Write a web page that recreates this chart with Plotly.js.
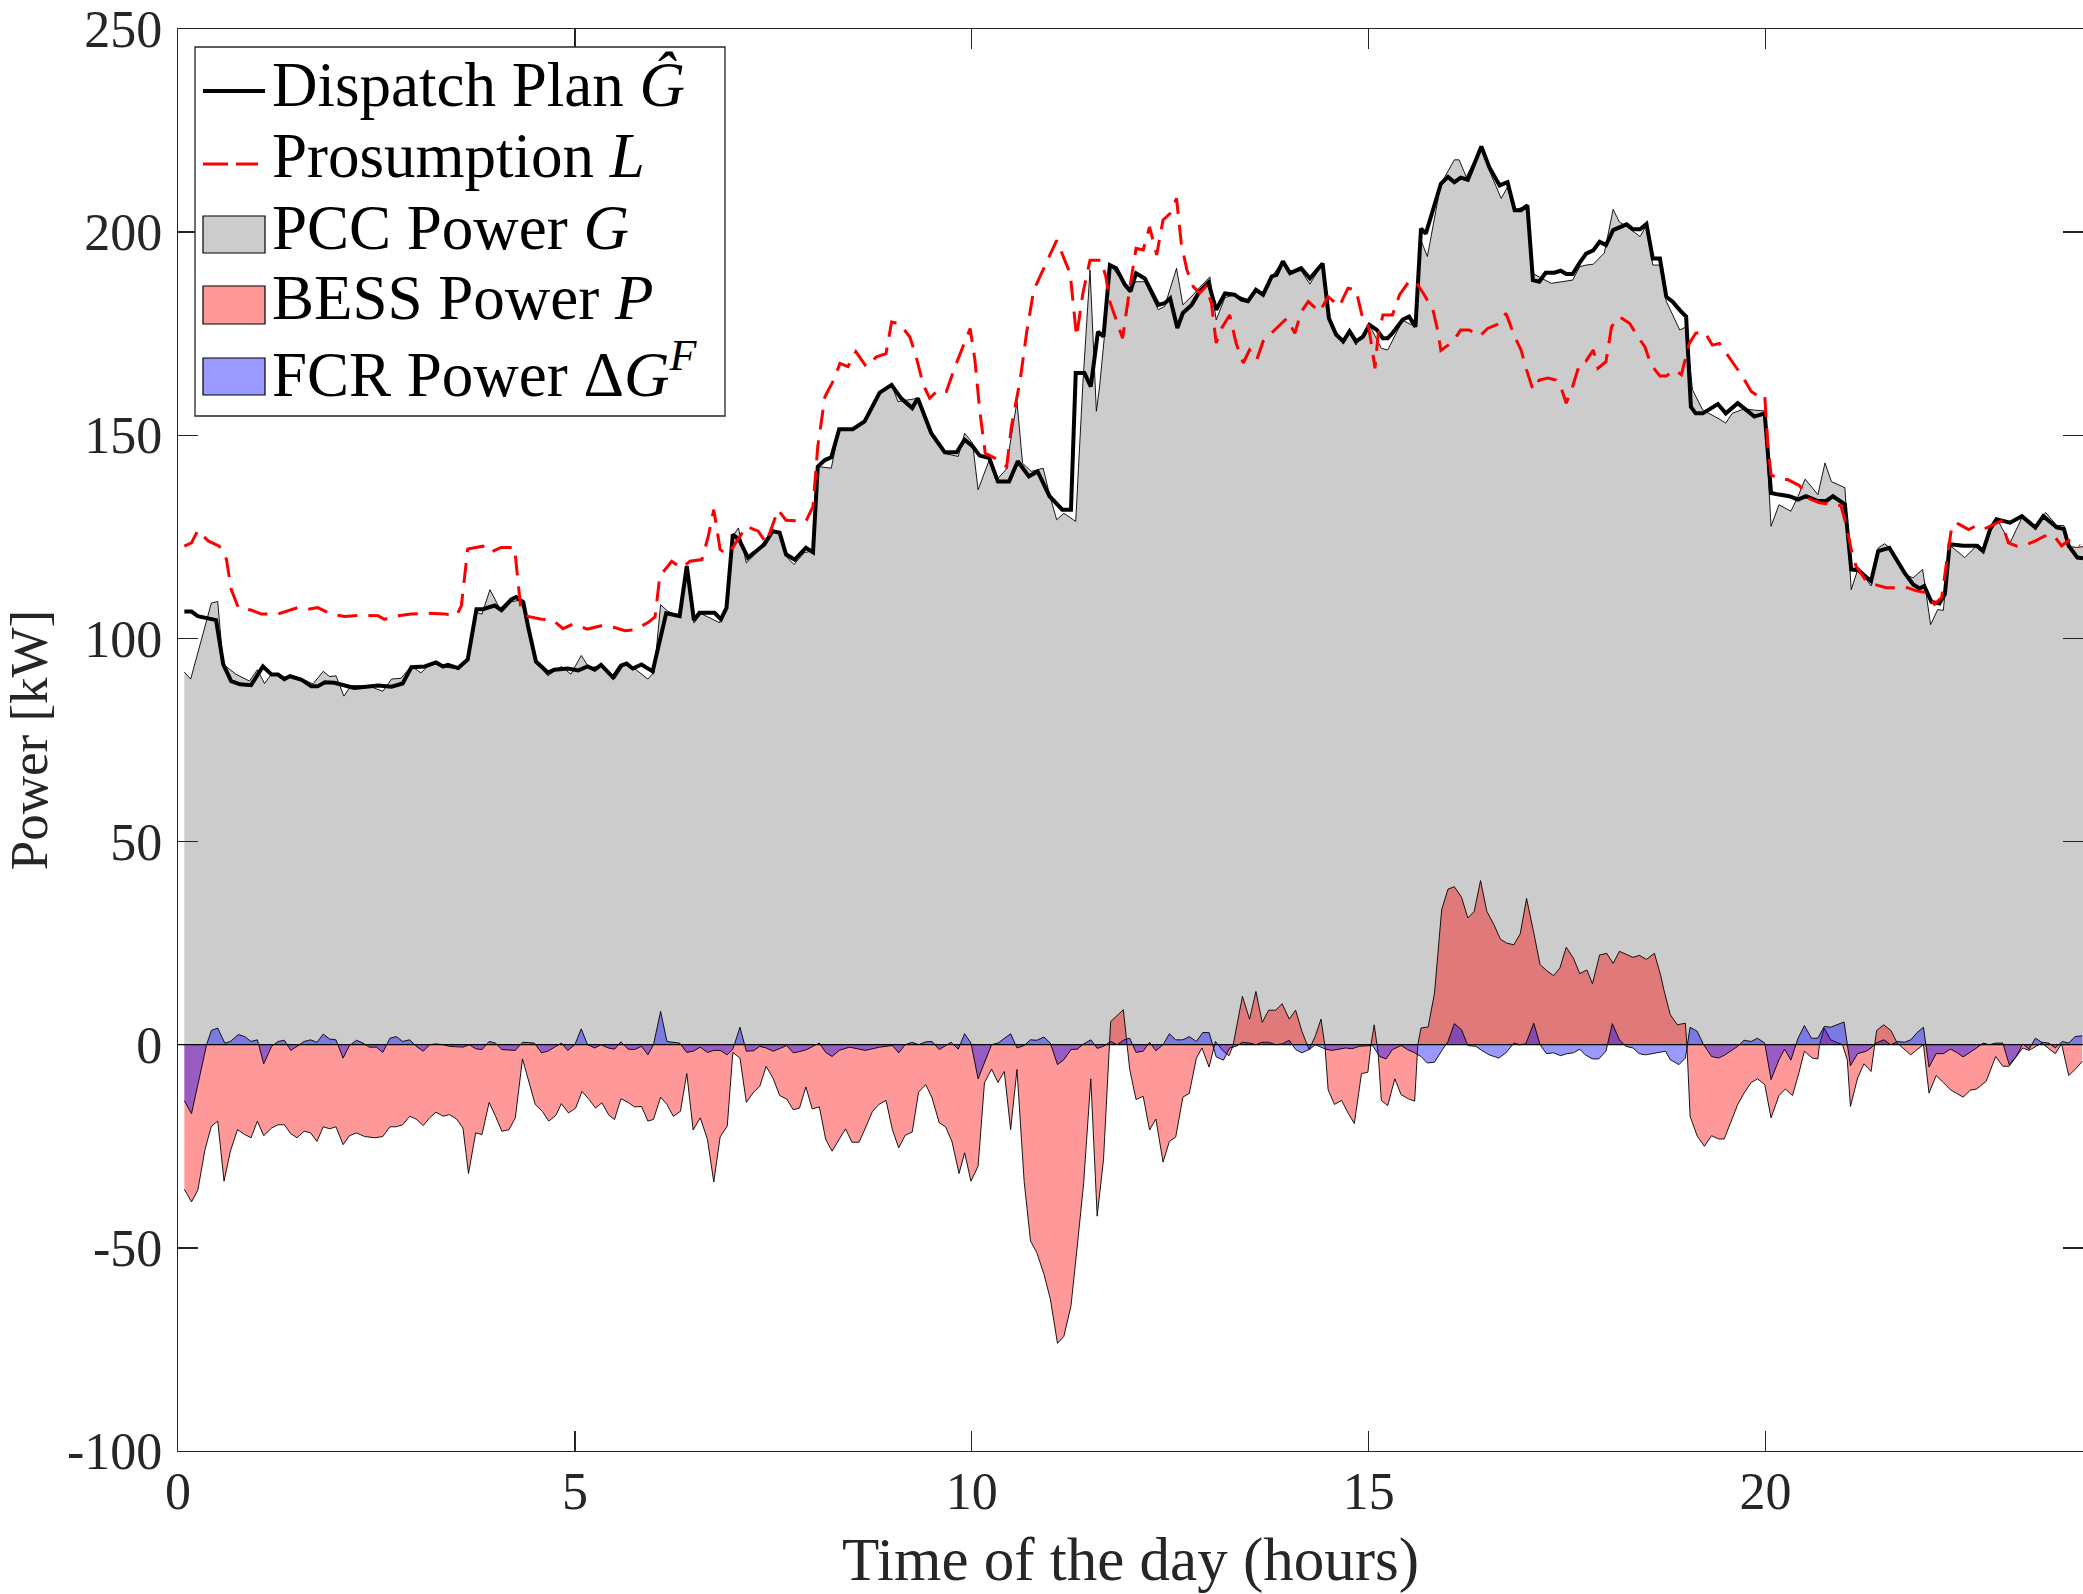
<!DOCTYPE html>
<html>
<head>
<meta charset="utf-8">
<script src="https://cdn.plot.ly/plotly-3.0.1.min.js"></script>
<style>html,body{margin:0;padding:0;background:#fff;}#chart{width:2083px;height:1594px;}</style>
</head>
<body>
<div id="chart"></div>
<script>
// ---- Dispatch plan G^ ----
const tD = [0.08,0.17,0.25,0.48,0.57,0.67,0.78,0.92,1.07,1.18,1.26,1.34,1.41,1.55,1.68,1.76,1.85,1.97,2.22,2.52,2.69,2.83,2.94,3.11,3.25,3.34,3.40,3.53,3.65,3.76,3.84,3.99,4.07,4.20,4.26,4.35,4.41,4.51,4.66,4.74,4.91,5.04,5.16,5.25,5.33,5.48,5.58,5.65,5.73,5.84,5.98,6.07,6.15,6.32,6.41,6.50,6.57,6.76,6.84,6.91,6.99,7.07,7.18,7.26,7.39,7.49,7.58,7.66,7.77,7.91,8.00,8.06,8.15,8.23,8.33,8.50,8.65,8.84,8.99,9.11,9.25,9.32,9.49,9.66,9.81,9.91,10.01,10.10,10.22,10.33,10.47,10.58,10.72,10.83,10.98,11.14,11.25,11.31,11.42,11.50,11.59,11.66,11.74,11.82,11.93,12.00,12.07,12.18,12.35,12.43,12.50,12.59,12.66,12.77,12.87,12.98,13.08,13.19,13.31,13.40,13.48,13.58,13.67,13.78,13.84,13.92,14.01,14.15,14.26,14.42,14.50,14.59,14.68,14.76,14.84,14.93,15.01,15.10,15.18,15.24,15.30,15.43,15.51,15.59,15.66,15.72,15.81,15.91,16.00,16.08,16.16,16.25,16.42,16.52,16.65,16.75,16.84,16.92,17.00,17.07,17.15,17.23,17.34,17.42,17.49,17.57,17.66,17.74,17.83,17.91,17.99,18.08,18.25,18.33,18.42,18.50,18.58,18.67,18.75,18.83,18.92,19.00,19.06,19.12,19.21,19.31,19.40,19.50,19.65,19.76,19.86,19.99,20.07,20.17,20.30,20.41,20.51,20.66,20.77,20.85,21.00,21.08,21.17,21.33,21.42,21.56,21.75,21.86,21.94,22.00,22.09,22.19,22.26,22.32,22.49,22.66,22.74,22.83,22.91,23.08,23.23,23.40,23.50,23.67,23.76,23.82,23.93,24.00];
const dispatch = [106.6,106.6,105.5,104.5,93.6,89.5,88.7,88.5,93.1,91.1,91.1,90.0,90.7,89.9,88.2,88.2,89.2,89.1,87.8,88.4,88.1,88.9,92.9,93.1,94.1,93.1,93.5,92.7,94.8,107.2,107.2,108.1,107.0,109.6,110.2,108.9,103.0,94.3,91.6,92.3,92.6,92.1,93.1,92.3,93.5,90.4,93.3,93.8,92.6,93.6,91.9,99.1,106.2,105.5,117.8,104.5,106.3,106.3,104.7,107.5,125.6,124.3,119.9,121.1,123.2,126.4,126.0,120.7,119.4,122.3,121.2,142.3,143.9,144.6,151.5,151.5,153.4,160.5,162.4,159.1,156.7,159.1,150.5,145.8,145.8,148.9,147.3,145.0,144.4,138.6,138.6,143.6,139.9,141.1,135.0,131.7,131.7,165.3,165.3,162.0,175.5,174.3,191.9,191.1,187.0,185.4,189.9,188.6,182.1,182.5,183.7,176.4,180.1,182.1,185.4,187.6,180.9,184.9,184.6,183.4,183.0,185.8,184.6,189.1,189.5,192.8,189.9,191.1,188.6,192.3,178.8,174.8,173.1,175.6,173.1,174.3,177.2,176.0,173.9,173.9,175.1,178.5,179.2,176.7,200.9,199.6,205.4,211.9,213.6,212.3,213.4,212.9,221.1,216.0,211.5,212.3,205.4,205.4,206.6,188.2,187.8,190.0,190.0,190.5,189.7,189.7,192.5,194.7,195.5,197.6,196.8,200.5,201.9,200.7,200.7,202.0,193.5,193.5,184.1,182.9,180.8,179.2,157.0,155.4,155.4,156.6,157.7,155.4,157.9,156.2,154.6,155.4,135.8,135.4,135.0,134.2,135.0,133.8,133.9,135.0,133.0,117.0,116.8,114.1,121.5,122.3,116.2,113.3,112.3,112.9,109.0,108.6,110.9,123.2,122.8,122.8,121.5,126.9,129.3,128.5,130.1,127.3,130.1,127.3,126.9,122.8,119.9,119.7];

// ---- Prosumption L ----
const tL = [0.08,0.17,0.25,0.38,0.52,0.61,0.67,0.76,0.92,1.05,1.26,1.39,1.51,1.64,1.76,1.93,2.10,2.31,2.52,2.60,2.77,2.94,3.15,3.36,3.51,3.57,3.65,3.84,3.93,4.07,4.24,4.28,4.32,4.41,4.58,4.72,4.85,4.97,5.16,5.33,5.50,5.63,5.75,5.92,6.01,6.07,6.22,6.34,6.45,6.60,6.68,6.75,6.83,6.91,7.00,7.16,7.31,7.41,7.56,7.66,7.83,7.91,8.00,8.06,8.15,8.25,8.34,8.44,8.54,8.67,8.80,8.92,8.99,9.09,9.22,9.30,9.39,9.47,9.58,9.68,9.79,9.89,9.98,10.04,10.10,10.17,10.29,10.44,10.50,10.61,10.69,10.78,10.90,11.07,11.24,11.32,11.40,11.49,11.63,11.69,11.74,11.82,11.90,12.00,12.07,12.16,12.24,12.33,12.41,12.50,12.58,12.64,12.71,12.79,12.87,12.95,13.02,13.08,13.15,13.25,13.33,13.42,13.50,13.59,13.67,13.80,13.97,14.07,14.15,14.24,14.38,14.49,14.63,14.74,14.84,14.93,14.99,15.03,15.08,15.12,15.18,15.30,15.39,15.51,15.59,15.70,15.81,15.87,15.91,16.06,16.16,16.27,16.40,16.50,16.65,16.73,16.84,16.92,16.99,17.07,17.15,17.26,17.36,17.42,17.49,17.57,17.66,17.74,17.83,17.89,17.99,18.06,18.16,18.29,18.39,18.48,18.56,18.67,18.75,18.86,18.94,19.04,19.12,19.23,19.33,19.42,19.54,19.71,19.82,19.92,19.99,20.03,20.07,20.17,20.28,20.43,20.56,20.68,20.83,20.95,21.02,21.08,21.14,21.27,21.37,21.52,21.69,21.79,21.90,22.02,22.13,22.22,22.28,22.35,22.41,22.56,22.64,22.74,22.87,22.97,23.06,23.17,23.29,23.40,23.52,23.63,23.73,23.84,23.96];
const prosumption = [122.7,123.5,126.6,124.0,122.7,119.5,112.1,107.6,107.0,106.0,106.0,106.8,107.6,107.2,107.6,106.0,105.4,105.7,105.6,104.7,105.6,106.0,106.2,106.0,105.6,108.1,122.0,122.7,121.1,122.4,122.4,114.6,107.2,105.4,104.7,104.6,102.4,103.5,102.3,103.1,102.7,101.9,102.1,103.9,105.3,115.3,119.0,117.3,119.0,119.4,125.1,131.7,121.9,120.7,122.7,127.6,126.4,123.5,131.7,129.1,128.8,128.8,132.5,147.2,159.5,163.2,167.7,166.9,170.6,166.9,169.3,170.1,177.9,177.5,174.2,169.3,162.4,159.1,161.2,160.8,166.9,171.8,176.3,168.5,156.2,145.6,144.4,142.3,152.2,163.6,175.1,185.7,190.7,198.0,189.8,174.3,184.9,193.1,193.1,189.0,182.9,178.4,173.9,187.4,196.0,195.6,201.3,194.4,203.0,204.6,208.3,197.2,190.7,186.6,185.0,186.6,182.5,172.7,176.4,179.6,172.7,167.8,171.0,168.6,173.1,175.6,178.8,175.1,180.4,182.9,180.4,184.1,181.7,186.2,185.8,178.4,177.6,173.1,166.5,174.7,179.6,179.6,184.6,187.9,187.9,184.6,180.9,175.8,170.9,173.0,175.9,175.9,174.4,176.3,177.5,180.0,174.3,171.0,166.1,161.2,163.6,164.1,163.6,162.0,157.9,162.0,167.7,168.3,171.0,166.5,168.1,176.7,179.2,177.5,174.3,171.8,167.3,164.6,164.6,166.1,164.9,172.6,175.1,175.5,172.2,172.6,169.3,164.5,160.8,159.5,159.9,147.2,140.3,139.2,139.1,137.6,134.3,133.4,133.0,132.7,127.6,121.9,117.8,114.1,113.3,112.5,112.5,112.5,111.7,111.3,108.4,110.1,118.6,128.0,128.4,126.8,127.6,126.8,128.0,128.9,123.5,122.7,123.1,124.0,125.2,125.4,122.8,124.4,122.8];

// ---- PCC power G ----
const tG = [0.08,0.16,0.42,0.50,0.57,0.73,0.90,1.00,1.09,1.18,1.34,1.55,1.70,1.83,1.91,1.99,2.09,2.18,2.40,2.58,2.69,2.81,2.94,3.06,3.19,3.34,3.53,3.65,3.76,3.83,3.93,4.08,4.20,4.32,4.41,4.51,4.66,4.83,4.95,5.08,5.18,5.34,5.50,5.63,5.77,5.92,6.00,6.08,6.17,6.32,6.41,6.50,6.59,6.82,6.91,6.99,7.06,7.16,7.26,7.49,7.58,7.66,7.76,7.89,8.00,8.06,8.23,8.33,8.50,8.65,8.84,8.99,9.07,9.18,9.32,9.49,9.66,9.83,9.91,10.01,10.08,10.22,10.33,10.43,10.57,10.64,10.75,10.90,10.98,11.07,11.16,11.31,11.40,11.49,11.57,11.61,11.67,11.73,11.86,12.00,12.07,12.18,12.35,12.43,12.58,12.66,12.79,12.87,13.00,13.08,13.19,13.31,13.48,13.58,13.67,13.78,13.92,14.01,14.15,14.26,14.42,14.50,14.68,14.76,14.84,15.01,15.16,15.24,15.43,15.59,15.66,15.74,15.91,16.08,16.14,16.23,16.42,16.52,16.67,16.75,16.84,17.00,17.07,17.30,17.57,17.66,17.74,17.83,17.97,18.08,18.16,18.25,18.42,18.50,18.58,18.67,18.75,18.92,19.00,19.08,19.21,19.40,19.50,19.58,19.73,19.86,19.99,20.07,20.17,20.32,20.41,20.50,20.66,20.75,20.83,21.00,21.08,21.17,21.25,21.33,21.42,21.50,21.58,21.75,21.86,21.98,22.08,22.17,22.24,22.32,22.51,22.68,22.74,22.91,23.08,23.23,23.40,23.53,23.67,23.76,23.82,23.93,24.00];
const pcc = [91.7,90.0,108.7,109.1,93.6,91.2,89.5,92.3,88.9,91.3,90.5,90.2,88.8,91.9,90.6,90.8,85.8,88.4,88.3,87.0,90.0,90.2,93.2,91.5,94.1,93.0,92.5,94.8,106.4,106.0,112.0,106.4,109.0,109.5,103.0,94.3,90.8,93.1,91.2,95.8,92.8,93.2,90.0,93.9,92.3,90.0,91.8,108.3,106.7,105.5,117.8,103.8,106.1,103.9,107.2,125.2,127.2,118.6,120.5,126.8,126.0,120.2,118.2,121.1,121.6,142.3,141.9,151.5,151.5,153.4,160.5,162.4,158.3,158.7,159.1,150.5,145.5,144.8,150.5,148.1,136.6,143.9,139.4,141.5,158.3,143.1,141.1,141.9,135.4,129.2,130.8,128.8,162.8,190.7,155.9,161.9,174.1,192.3,189.0,186.2,187.8,187.8,180.9,181.7,191.1,182.1,184.6,186.4,189.0,178.4,183.9,184.6,183.4,185.8,184.6,189.1,192.8,190.5,190.5,187.2,192.3,178.4,172.5,175.4,172.2,177.2,171.4,171.0,178.3,176.7,198.0,194.0,211.9,217.8,217.8,213.6,220.9,215.2,208.3,211.1,205.4,206.6,189.8,187.4,188.2,191.5,191.9,192.1,194.9,205.6,202.5,201.4,198.9,201.7,191.9,191.9,183.0,175.9,176.7,161.2,156.2,154.2,153.0,155.4,156.5,156.2,156.0,127.6,132.9,131.3,135.0,139.2,135.4,143.2,138.6,137.1,112.0,117.4,115.0,112.9,122.3,123.3,122.1,115.8,114.9,117.0,103.4,107.1,106.9,123.0,119.9,123.2,122.0,129.7,123.5,129.7,127.6,131.0,127.8,127.8,122.6,122.4,122.6];

// ---- BESS power P ----
const tP = [0.08,0.17,0.25,0.34,0.42,0.50,0.58,0.66,0.75,0.84,0.92,1.00,1.08,1.18,1.26,1.34,1.42,1.50,1.59,1.67,1.75,1.83,1.91,1.99,2.08,2.16,2.25,2.35,2.48,2.58,2.67,2.75,2.83,2.92,3.00,3.09,3.17,3.25,3.34,3.42,3.51,3.59,3.66,3.75,3.83,3.92,4.00,4.08,4.17,4.25,4.34,4.42,4.50,4.59,4.67,4.76,4.83,4.92,5.01,5.09,5.18,5.26,5.34,5.43,5.50,5.58,5.67,5.75,5.84,5.92,5.99,6.08,6.16,6.24,6.33,6.41,6.49,6.58,6.67,6.75,6.83,6.92,6.99,7.08,7.16,7.25,7.33,7.41,7.50,7.58,7.67,7.75,7.83,7.91,7.99,8.08,8.16,8.24,8.33,8.41,8.49,8.58,8.66,8.75,8.83,8.92,9.00,9.08,9.16,9.25,9.33,9.42,9.50,9.59,9.67,9.75,9.84,9.91,9.99,10.08,10.16,10.25,10.33,10.41,10.49,10.57,10.66,10.74,10.82,10.91,10.99,11.08,11.16,11.25,11.33,11.41,11.50,11.58,11.66,11.75,11.91,11.99,12.07,12.16,12.24,12.32,12.41,12.49,12.57,12.66,12.74,12.83,12.90,12.99,13.07,13.17,13.24,13.29,13.41,13.50,13.58,13.66,13.74,13.83,13.91,14.00,14.08,14.16,14.25,14.33,14.40,14.45,14.49,14.57,14.66,14.74,14.82,14.91,14.99,15.03,15.07,15.12,15.16,15.24,15.33,15.41,15.50,15.58,15.62,15.66,15.75,15.83,15.92,16.00,16.08,16.17,16.25,16.33,16.41,16.49,16.58,16.66,16.74,16.83,16.91,16.99,17.08,17.16,17.24,17.33,17.41,17.49,17.58,17.66,17.75,17.82,17.91,18.00,18.08,18.16,18.33,18.41,18.50,18.60,18.68,18.72,18.80,18.89,18.99,19.01,19.05,19.14,19.23,19.32,19.41,19.48,19.56,19.65,19.73,19.82,19.90,19.99,20.07,20.17,20.25,20.34,20.42,20.49,20.59,20.66,20.68,20.74,20.82,20.97,21.03,21.07,21.16,21.24,21.33,21.37,21.40,21.49,21.58,21.66,21.75,21.83,21.91,21.99,22.06,22.15,22.24,22.33,22.41,22.49,22.58,22.66,22.78,22.90,22.99,23.07,23.16,23.24,23.32,23.40,23.48,23.56,23.65,23.73,23.82,23.90,23.99];
const bess = [-35.6,-38.7,-35.8,-25.8,-20.1,-18.8,-33.6,-26.2,-20.9,-22.1,-22.9,-18.8,-22.4,-20.5,-19.7,-19.7,-21.9,-22.9,-21.3,-21.7,-23.8,-20.2,-20.7,-20.2,-24.6,-22.4,-21.7,-22.6,-22.9,-22.6,-20.2,-20.2,-19.7,-17.6,-18.3,-19.9,-18.0,-16.6,-17.6,-17.2,-18.3,-20.5,-31.7,-21.7,-22.1,-14.2,-17.6,-21.3,-20.9,-18.0,-3.5,-9.0,-14.7,-16.4,-18.8,-17.4,-14.5,-16.8,-15.6,-11.5,-13.5,-15.6,-14.3,-17.4,-18.4,-13.3,-14.2,-15.3,-15.2,-18.8,-18.4,-12.9,-14.7,-17.6,-16.4,-7.1,-21.0,-18.0,-23.3,-33.8,-22.7,-20.0,-1.9,-3.3,-14.2,-11.7,-10.2,-5.3,-8.4,-12.5,-13.4,-16.0,-15.6,-10.4,-15.8,-15.3,-23.3,-26.2,-23.3,-20.7,-24.0,-24.0,-20.5,-16.4,-14.7,-13.7,-20.9,-25.4,-22.3,-21.5,-11.7,-9.8,-13.1,-19.2,-20.2,-23.8,-31.7,-26.6,-33.6,-29.9,-9.4,-6.0,-9.3,-6.6,-20.9,-6.1,-33.6,-48.3,-51.2,-56.5,-62.6,-73.5,-71.8,-64.3,-49.5,-34.0,-8.4,-42.2,-28.3,5.7,8.6,-6.1,-13.5,-12.7,-21.0,-18.3,-28.9,-23.8,-22.7,-12.9,-12.0,-3.3,-0.8,-5.5,0.8,-1.6,-2.7,-0.4,11.9,6.3,13.1,5.5,8.5,8.5,10.1,6.3,8.5,3.3,-1.2,2.2,6.3,-0.4,-11.1,-14.7,-13.7,-16.8,-19.4,-7.1,-6.8,0,4.9,-2.0,-13.7,-15.0,-8.4,-12.3,-13.3,-13.9,0,4.1,4.4,12.7,33.2,38.3,38.9,36.3,31.2,32.8,40.4,32.8,29.5,26.0,25.0,24.6,27.3,36.0,27.6,19.7,18.3,17.0,18.9,24.0,21.3,17.5,18.4,15.0,22.1,22.5,20.0,23.0,21.5,22.0,21.0,22.5,17.0,13.5,7.4,4.9,5.3,0,-17.6,-22.5,-25.0,-22.4,-23.2,-23.2,-19.2,-14.7,-11.9,-9.3,-8.4,-9.8,-18.0,-12.5,-10.9,-12.5,-7.0,-1.6,-3.3,-3.5,0,4.1,1.2,0,-3.7,-15.2,-8.2,-4.7,-6.6,0,3.5,4.9,3.5,0.4,-1.2,-2.5,-1.2,0,-11.9,-7.6,-9.3,-11.1,-12.0,-12.9,-11.2,-10.9,-9.0,-2.9,-5.3,-5.3,-2.9,-0.8,-1.4,-0.4,0.4,-0.8,-2.2,0.2,-7.6,-6.1,-4.1];

// ---- FCR power dG^F ----
const tF = [0.08,0.17,0.36,0.42,0.50,0.59,0.66,0.76,0.84,0.92,1.00,1.08,1.18,1.26,1.34,1.42,1.50,1.59,1.67,1.75,1.83,1.91,1.99,2.08,2.16,2.25,2.33,2.41,2.50,2.58,2.67,2.75,2.83,2.92,3.00,3.09,3.17,3.25,3.34,3.42,3.59,3.67,3.75,3.83,3.92,4.00,4.08,4.25,4.34,4.49,4.58,4.66,4.83,4.91,5.00,5.08,5.16,5.25,5.33,5.42,5.50,5.58,5.67,5.75,5.84,5.92,5.99,6.08,6.16,6.32,6.41,6.49,6.58,6.67,6.75,6.83,6.92,6.99,7.08,7.16,7.25,7.33,7.41,7.50,7.67,7.75,7.83,7.92,8.08,8.16,8.24,8.33,8.46,8.66,8.84,9.00,9.08,9.16,9.25,9.33,9.42,9.50,9.59,9.74,9.83,9.91,9.99,10.08,10.25,10.33,10.49,10.57,10.66,10.74,10.82,10.91,10.99,11.08,11.16,11.25,11.33,11.41,11.50,11.58,11.66,11.75,11.83,11.92,11.99,12.07,12.16,12.24,12.32,12.41,12.49,12.57,12.66,12.74,12.83,12.91,12.99,13.08,13.17,13.25,13.33,13.41,13.50,13.58,13.66,13.74,13.83,13.91,14.00,14.08,14.16,14.25,14.33,14.46,14.54,14.71,14.79,14.88,15.05,15.14,15.22,15.30,15.41,15.49,15.58,15.66,15.74,15.83,15.93,16.00,16.08,16.17,16.25,16.35,16.44,16.52,16.64,16.73,16.83,16.90,16.98,17.08,17.16,17.24,17.33,17.42,17.50,17.58,17.66,17.73,17.82,17.90,17.99,18.07,18.16,18.24,18.33,18.41,18.49,18.57,18.66,18.74,18.80,18.91,18.99,19.05,19.14,19.22,19.32,19.41,19.49,19.65,19.73,19.82,19.90,19.99,20.07,20.17,20.24,20.32,20.41,20.49,20.58,20.66,20.74,20.82,20.99,21.07,21.16,21.27,21.33,21.39,21.49,21.58,21.66,21.75,21.83,21.91,21.99,22.06,22.15,22.24,22.33,22.41,22.49,22.58,22.66,22.74,22.82,22.90,22.99,23.07,23.16,23.24,23.32,23.40,23.48,23.57,23.65,23.74,23.82,23.90,23.99];
const fcr = [-13.8,-17.0,0,3.5,4.1,0.4,0.8,2.5,2.0,0.8,1.2,-4.7,-0.4,0.8,1.1,-1.4,-0.4,0.8,1.2,0.6,2.6,1.4,1.2,-3.3,-0.2,1.1,0.4,-0.6,-0.6,-1.9,1.6,2.0,0.8,1.2,-0.4,-1.6,0,0.2,0,-0.4,-0.6,0,-1.0,-1.2,0.8,0.4,-1.2,-1.4,0.6,0.4,-2.0,-1.6,0.4,-1.4,0,3.9,0,-0.8,0,-0.8,-1.1,0.7,-1.1,-1.2,-0.4,-2.5,0,8.2,0.8,0.4,-1.9,-1.6,-0.6,-1.9,-1.4,-1.4,-2.5,-1.1,4.3,-1.6,-1.5,-0.4,-0.8,-1.6,-0.2,-2.0,-1.7,-1.2,0.4,-1.9,-2.9,-1.4,-0.6,-1.4,-0.6,-0.2,-2.0,0,0.6,0,0.7,0.8,-1.2,0.6,-1.1,2.7,0.4,-8.4,0,0.4,2.7,-0.8,-0.2,1.2,1.1,1.9,0.4,-4.9,-3.7,-1.2,-1.1,0.2,1.2,-0.9,-0.4,0.8,0,1.2,1.6,-1.9,-1.6,0.6,-1.5,0,2.7,1.2,1.2,2.0,0.8,3.0,3.0,-3.0,-3.8,-0.8,-0.4,0.6,0.4,0,0.6,0.6,0,0.2,1.1,-1.2,-2.0,-1.2,0,-1.1,-1.4,-0.8,-1.0,-0.4,-0.2,-2.9,-3.5,-1.2,-0.2,-1.2,-2.0,-2.9,-4.5,-4.3,-1.2,0.8,5.2,3.7,-0.2,-0.4,-1.6,-2.5,-3.3,-2.0,0.4,0,0.2,5.3,0,-2.2,-2.0,-2.7,-2.2,-2.0,-1.1,-2.5,-3.5,-3.5,-1.6,5.2,1.2,-0.4,-0.8,-2.2,-2.5,-2.2,-2.0,-1.6,-3.7,-4.9,-3.3,4.3,3.3,0,-2.9,-3.3,-2.5,-0.4,1.1,0.8,1.6,0.4,-8.6,-3.7,-1.1,-3.8,1.6,4.7,1.6,1.6,4.5,4.3,5.6,-5.2,-2.2,-1.6,-0.8,0.4,1.2,0,0.8,0.6,1.2,3.0,4.3,-5.5,-2.2,-2.2,-1.1,-1.9,-3.0,-1.9,-0.8,0.4,0,0.4,0.4,-4.9,-2.9,0.2,-1.1,1.6,0.6,0.4,-0.8,0.8,0.4,2.0,2.2];

const xTicks = [0, 5, 10, 15, 20];
const yTicks = [-100, -50, 0, 50, 100, 150, 200, 250];
const yTickText = ['-100', '-50', '0', '50', '100', '150', '200', '250'];

const legendLabels = ['Dispatch Plan <i>Ĝ</i>', 'Prosumption <i>L</i>', 'PCC Power <i>G</i>',
                      'BESS Power <i>P</i>', 'FCR Power Δ<i>G</i><sup><i>F</i></sup>'];

// ---------- layout geometry (pixels) ----------
const W = 2083, H = 1594;
const M = {l: 178, r: 0, t: 29, b: 143};
const PW = W - M.l - M.r, PH = H - M.t - M.b;
const px = x => (x - M.l) / PW;          // pixel -> paper x
const py = y => (H - M.b - y) / PH;      // pixel -> paper y
const FONT = 'Liberation Serif, Times New Roman, serif';
const AX = '#262626';

const traces = [
  {x: tG, y: pcc, type: 'scatter', mode: 'lines', name: 'PCC Power G', fill: 'tozeroy',
   fillcolor: '#cccccc', line: {color: '#000000', width: 0.9}, showlegend: false, hoverinfo: 'skip'},
  {x: tP, y: bess, type: 'scatter', mode: 'lines', name: 'BESS Power P', fill: 'tozeroy',
   fillcolor: 'rgba(255,0,0,0.4)', line: {color: '#000000', width: 0.9}, showlegend: false, hoverinfo: 'skip'},
  {x: tF, y: fcr, type: 'scatter', mode: 'lines', name: 'FCR Power dGF', fill: 'tozeroy',
   fillcolor: 'rgba(0,0,255,0.4)', line: {color: '#000000', width: 0.9}, showlegend: false, hoverinfo: 'skip'},
  {x: tD, y: dispatch, type: 'scatter', mode: 'lines', name: 'Dispatch Plan',
   line: {color: '#000000', width: 4}, showlegend: false, hoverinfo: 'skip'},
  {x: tL, y: prosumption, type: 'scatter', mode: 'lines', name: 'Prosumption L',
   line: {color: '#ff0000', width: 3, dash: '20px,11px'}, showlegend: false, hoverinfo: 'skip'}
];

// ---------- manual legend (MATLAB-style) ----------
const shapes = [
  {type: 'line', xref: 'paper', yref: 'y', x0: 0, x1: 1, y0: 0, y1: 0,
   line: {color: '#000000', width: 1.3}, layer: 'above'},
  {type: 'rect', xref: 'paper', yref: 'paper', x0: px(195), x1: px(725), y0: py(416), y1: py(47),
   line: {color: AX, width: 1.3}, fillcolor: '#ffffff', layer: 'above'},
  {type: 'line', xref: 'paper', yref: 'paper', x0: px(203), x1: px(265), y0: py(91), y1: py(91),
   line: {color: '#000000', width: 4}, layer: 'above'},
  {type: 'line', xref: 'paper', yref: 'paper', x0: px(203), x1: px(228), y0: py(164), y1: py(164),
   line: {color: '#ff0000', width: 3}, layer: 'above'},
  {type: 'line', xref: 'paper', yref: 'paper', x0: px(236), x1: px(258), y0: py(164), y1: py(164),
   line: {color: '#ff0000', width: 3}, layer: 'above'},
  {type: 'rect', xref: 'paper', yref: 'paper', x0: px(203), x1: px(265), y0: py(253), y1: py(216),
   line: {color: '#000000', width: 1.2}, fillcolor: '#cccccc', layer: 'above'},
  {type: 'rect', xref: 'paper', yref: 'paper', x0: px(203), x1: px(265), y0: py(324), y1: py(286),
   line: {color: '#000000', width: 1.2}, fillcolor: '#ff9999', layer: 'above'},
  {type: 'rect', xref: 'paper', yref: 'paper', x0: px(203), x1: px(265), y0: py(395), y1: py(358),
   line: {color: '#000000', width: 1.2}, fillcolor: '#9999ff', layer: 'above'}
];
const baselines = [106, 177, 249, 319, 391];
const annotations = legendLabels.map((t, i) => ({
  text: t, xref: 'paper', yref: 'paper', x: px(270), y: py(baselines[i] - 21),
  xanchor: 'left', yanchor: 'middle', showarrow: false,
  font: {family: FONT, size: 63, color: '#000000'}
}));

const layout = {
  width: W, height: H,
  margin: M,
  paper_bgcolor: '#ffffff', plot_bgcolor: '#ffffff',
  showlegend: false,
  font: {family: FONT, color: AX},
  xaxis: {
    range: [0, 24], tickvals: xTicks, ticktext: xTicks.map(String),
    showgrid: false, zeroline: false, showline: true, linecolor: AX, linewidth: 1.3,
    mirror: 'ticks', ticks: 'inside', ticklen: 20, tickwidth: 1.3, tickcolor: AX,
    tickfont: {family: FONT, size: 52, color: AX}, ticklabelstandoff: -6,
    title: {text: 'Time of the day (hours)', font: {family: FONT, size: 61, color: AX}, standoff: 25}
  },
  yaxis: {
    range: [-100, 250], tickvals: yTicks, ticktext: yTickText,
    showgrid: false, zeroline: false, showline: true, linecolor: AX, linewidth: 1.3,
    mirror: 'ticks', ticks: 'inside', ticklen: 20, tickwidth: 1.3, tickcolor: AX,
    tickfont: {family: FONT, size: 52, color: AX}, ticklabelstandoff: 4,
    title: {text: 'Power [kW]', font: {family: FONT, size: 53, color: AX}, standoff: 26}
  },
  shapes: shapes,
  annotations: annotations
};

Plotly.newPlot('chart', traces, layout, {staticPlot: true, displayModeBar: false});
</script>
</body>
</html>
